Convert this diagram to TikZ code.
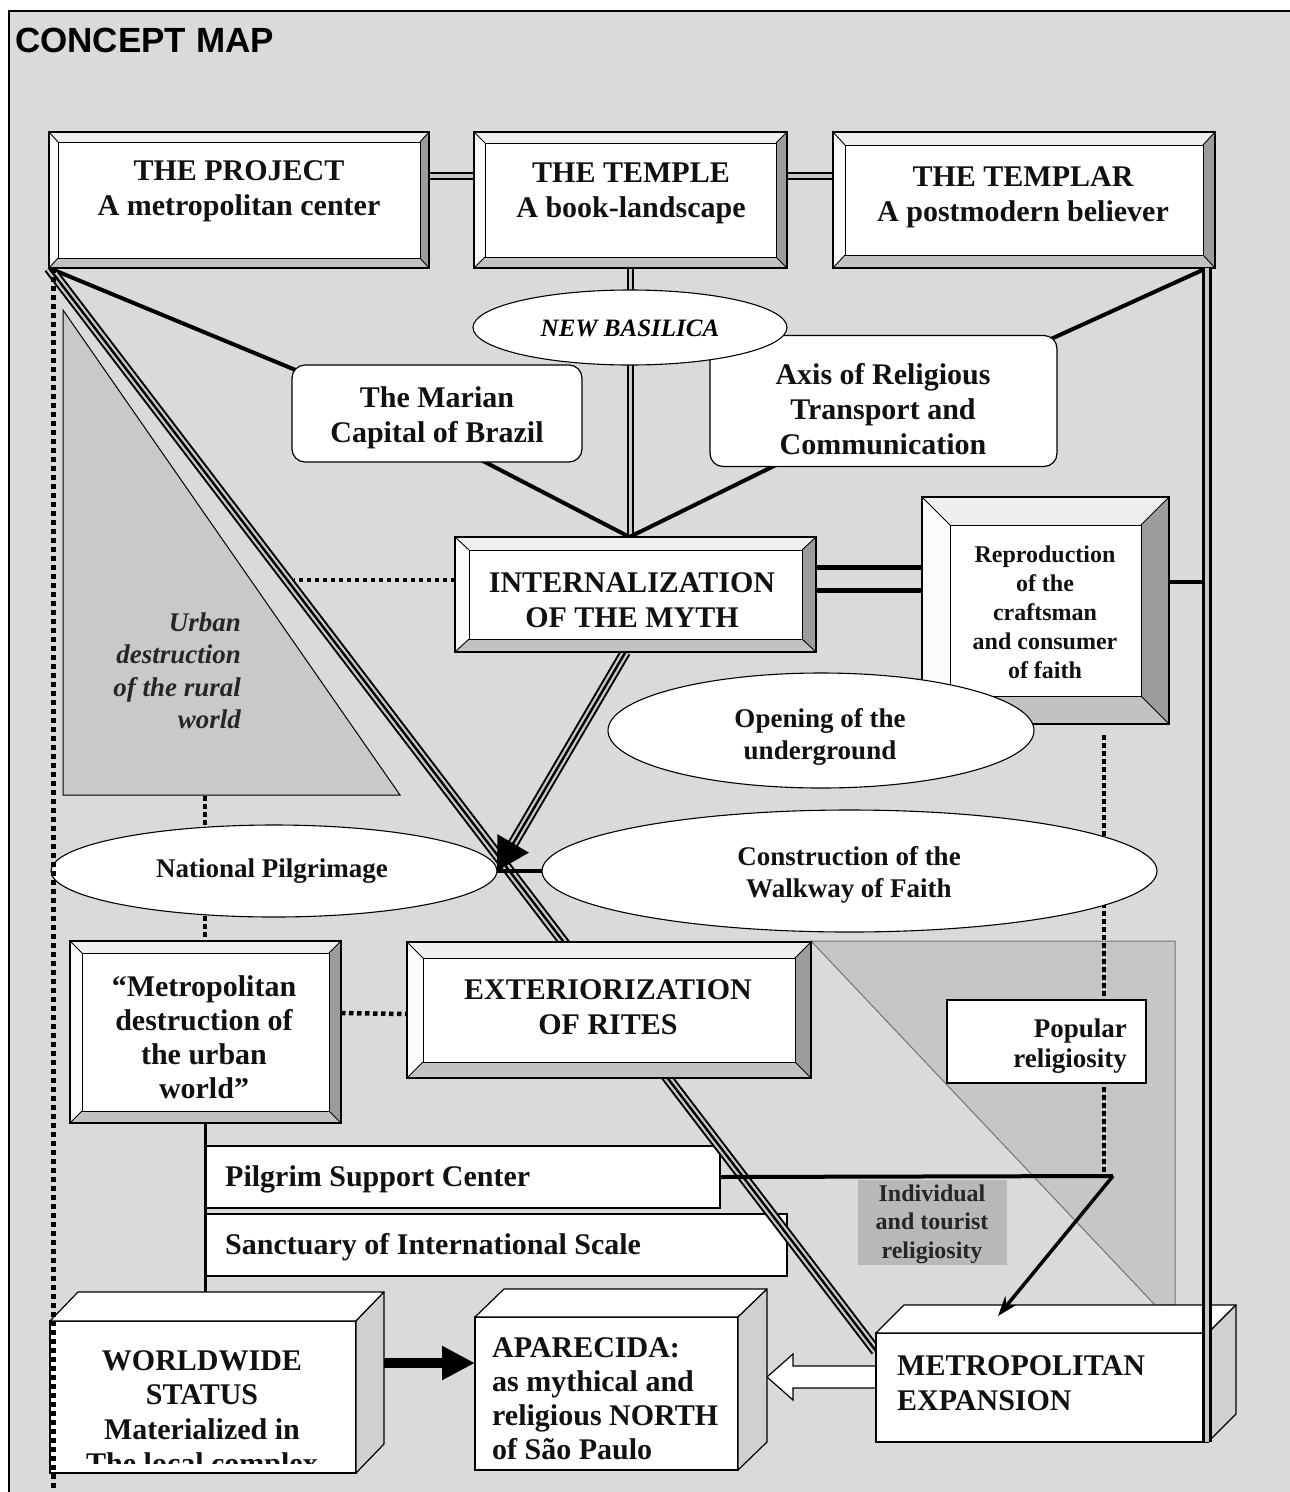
\documentclass[tikz,border=0pt]{standalone}
\usepackage{fontspec}
\setmainfont{Liberation Serif}
\newfontfamily\titlefont{Liberation Sans}
\usetikzlibrary{shapes.geometric,arrows.meta,calc}
\pgfdeclarelayer{bglayer}
\pgfdeclarelayer{linelayer}
\pgfdeclarelayer{frontlayer}
\pgfsetlayers{bglayer,linelayer,main,frontlayer}

\definecolor{bgc}{HTML}{DADADA}
\definecolor{trifill}{HTML}{C9C9C9}
\definecolor{regfill}{HTML}{C6C6C6}
\definecolor{facetT}{HTML}{EFEFEF}
\definecolor{facetL}{HTML}{FBFBFB}
\definecolor{facetR}{HTML}{9C9C9C}
\definecolor{facetB}{HTML}{C2C2C2}
\definecolor{sideC}{HTML}{D0D0D0}
\definecolor{indC}{HTML}{B8B8B8}
\definecolor{gapC}{HTML}{C8C8C8}
\definecolor{txtC}{HTML}{111111}

\tikzset{
  boxshape/.style={rectangle, draw=black, line width=1.2pt, fill=white, inner sep=0pt, outer sep=0pt},
  plainbox/.style={rectangle, draw=black, line width=1.3pt, fill=white, inner sep=0pt, outer sep=0pt},
  roundbox/.style={rectangle, rounded corners=13pt, draw=black, line width=1.2pt, fill=white, inner sep=0pt, outer sep=0pt},
  ellnode/.style={ellipse, draw=black, line width=1.1pt, fill=white, inner sep=0pt, outer sep=0pt},
  cubefront/.style={rectangle, draw=black, line width=1.2pt, fill=white, inner sep=0pt, outer sep=0pt},
  cubetop/.style={draw=black, line width=1.2pt, fill=white, line join=round},
  cubeside/.style={draw=black, line width=1.2pt, fill=sideC, line join=round},
  facetedge/.style={draw=black, line width=0.9pt},
  txtbig/.style={font=\fontsize{30}{35}\selectfont\bfseries, align=center, inner sep=0pt, text=txtC},
  txtmid/.style={font=\fontsize{27}{32}\selectfont\bfseries, align=center, inner sep=0pt, text=txtC},
  txtsmall/.style={font=\fontsize{24}{29}\selectfont\bfseries, align=center, inner sep=0pt, text=txtC},
  thickcon/.style={line width=4pt, black},
  dotcon/.style={line width=4.5pt, black, dash pattern=on 4.5pt off 3.5pt},
}

\newcommand\bevelbox[7]{%
  \node[boxshape, minimum width={(#4-#2)*1pt}, minimum height={(#5-#3)*1pt}] (#1) at ({(#2+#4)/2},{(#3+#5)/2}) {};
  \coordinate (#1-a) at ($(#1.north west)+(#6,#7)$);
  \coordinate (#1-b) at ($(#1.north east)+(-#6,#7)$);
  \coordinate (#1-c) at ($(#1.south east)+(-#6,-#7)$);
  \coordinate (#1-d) at ($(#1.south west)+(#6,-#7)$);
  \fill[facetL] (#1.north west) -- (#1-a) -- (#1-d) -- (#1.south west) -- cycle;
  \fill[facetT] (#1.north west) -- (#1.north east) -- (#1-b) -- (#1-a) -- cycle;
  \fill[facetR] (#1.north east) -- (#1.south east) -- (#1-c) -- (#1-b) -- cycle;
  \fill[facetB] (#1.south west) -- (#1.south east) -- (#1-c) -- (#1-d) -- cycle;
  \draw[facetedge] (#1-a) rectangle (#1-c);
  \draw[facetedge] (#1.north west) -- (#1-a) (#1.north east) -- (#1-b) (#1.south east) -- (#1-c) (#1.south west) -- (#1-d);
  \draw[line width=1.3pt] (#1.north west) rectangle (#1.south east);
}

\newcommand\cubebox[7]{%
  \node[cubefront, minimum width={(#4-#2)*1pt}, minimum height={(#5-#3)*1pt}] (#1) at ({(#2+#4)/2},{(#3+#5)/2}) {};
  \filldraw[cubetop] (#1.north west) -- ++(#6,-#7) -- ($(#1.north east)+(#6,-#7)$) -- (#1.north east) -- cycle;
  \filldraw[cubeside] (#1.north east) -- ++(#6,-#7) -- ($(#1.south east)+(#6,-#7)$) -- (#1.south east) -- cycle;
}

\newcommand\triline[2]{%
  \draw[line width=11pt, black] #1 -- #2;
  \draw[line width=7pt, gapC] #1 -- #2;
  \draw[line width=2.4pt, black] #1 -- #2;
}

\begin{document}
\begin{tikzpicture}[x=1pt,y=-1pt]
\useasboundingbox (0,0) rectangle (1290,1492);

% ---------------- background layer ----------------
\begin{pgfonlayer}{bglayer}
  \fill[white] (0,0) rectangle (1290,1492);
  \fill[bgc] (9,11) rectangle (1290,1492);
  \draw[line width=2pt] (9,1492) -- (9,11) -- (1290,11);
  \filldraw[fill=trifill, draw=black, line width=1pt] (63,310) -- (63,795) -- (400,795) -- cycle;
  \coordinate (tribot) at (205,796);
  \filldraw[fill=regfill, draw=black!55, line width=1pt] (811,941) -- (1175,941) -- (1175,1305) -- (1155,1305) -- cycle;
  \node[fill=indC, minimum width=149pt, minimum height=85pt, inner sep=0pt] (indiv) at (932.5,1222.5) {};
  \node[txtsmall, font=\fontsize{24}{28.5}\selectfont\bfseries, text=black!85] (indivT) at (932,1224) {Individual\\and tourist\\religiosity};
  \node[plainbox, minimum width=514pt, minimum height=62pt] (pilg) at (463,1177) {};
  \node[txtbig, anchor=west] (pilgT) at (225,1179) {Pilgrim Support Center};
  \node[plainbox, minimum width=581pt, minimum height=62pt] (sanct) at (496.5,1245) {};
  \node[txtbig, anchor=west] (sanctT) at (225,1247) {Sanctuary of International Scale};
  \node[font=\fontsize{27}{32.5}\selectfont\bfseries\itshape, align=right, inner sep=0pt, anchor=east, text=black!85] (urbanT) at (241,671) {Urban\\destruction\\of the rural\\world};
\end{pgfonlayer}

% ---------------- title ----------------
\node[font=\titlefont\bfseries\fontsize{35}{40}\selectfont, anchor=west, inner sep=0pt] (title) at (15,40) {CONCEPT MAP};

% ---------------- main nodes ----------------
\bevelbox{proj}{49}{132}{429}{268}{9}{10}
\node[txtbig] (projT) at (239,191) {THE PROJECT\\A metropolitan center};
\bevelbox{temple}{474}{132}{787}{268}{11}{11}
\node[txtbig] (templeT) at (631,193) {THE TEMPLE\\A book-landscape};
\bevelbox{templar}{833}{132}{1215}{268}{12}{13}
\node[txtbig] (templarT) at (1023,197) {THE TEMPLAR\\A postmodern believer};

\node[roundbox, minimum width=290pt, minimum height=97pt] (marian) at (437,413.5) {};
\node[txtbig] (marianT) at (437,418) {The Marian\\Capital of Brazil};
\node[roundbox, minimum width=347pt, minimum height=131pt] (axis) at (883.5,401) {};
\node[txtbig] (axisT) at (883,409) {Axis of Religious\\Transport and\\Communication};

\node[ellnode, minimum width=314pt, minimum height=75pt] (basil) at (630,327.5) {};
\node[font=\fontsize{25}{30}\selectfont\bfseries\itshape, inner sep=0pt] (basilT) at (630,328) {NEW BASILICA};

\bevelbox{int}{455}{537}{816}{652}{14}{13}
\node[txtbig] (intT) at (632,600) {INTERNALIZATION\\OF THE MYTH};

\bevelbox{repro}{922}{497}{1169}{724}{28}{28}
\node[txtsmall] (reproT) at (1045,612) {Reproduction\\of the\\craftsman\\and consumer\\of faith};

\node[ellnode, minimum width=426pt, minimum height=115pt] (open) at (821,730.5) {};
\node[txtmid] (openT) at (820,737) {Opening of the\\underground};

\node[ellnode, minimum width=446pt, minimum height=92pt] (nat) at (274,871) {};
\node[txtmid] (natT) at (272,871) {National Pilgrimage};

\node[ellnode, minimum width=615pt, minimum height=122pt] (constr) at (849.5,871) {};
\node[txtmid] (constrT) at (849,875) {Construction of the\\Walkway of Faith};

\bevelbox{mdest}{70}{941}{341}{1123}{12}{12}
\node[txtbig, font=\fontsize{30}{34}\selectfont\bfseries] (mdestT) at (204,1037) {“Metropolitan\\destruction of\\the urban\\world”};

\bevelbox{ext}{407}{942}{811}{1078}{16}{16}
\node[txtbig] (extT) at (608,1007) {EXTERIORIZATION\\OF RITES};

\node[plainbox, minimum width=199pt, minimum height=83pt] (pop) at (1046.5,1041.5) {};
\node[txtmid, font=\fontsize{27}{30}\selectfont\bfseries, align=right, anchor=east] (popT) at (1127,1046) {Popular\\religiosity};

\cubebox{ww}{50}{1321}{356}{1473}{28}{29}
\begin{scope}
  \clip (ww.north west) rectangle ($(ww.south east)+(0,-10)$);
  \node[txtbig, font=\fontsize{30}{34.5}\selectfont\bfseries] (wwT) at (202,1415) {WORLDWIDE\\STATUS\\Materialized in\\The local complex};
\end{scope}

\cubebox{apar}{475}{1317}{738}{1470}{29}{28}
\node[txtbig, font=\fontsize{30}{34}\selectfont\bfseries, align=left, anchor=west] (aparT) at (492,1399) {APARECIDA:\\as mythical and\\religious NORTH\\of São Paulo};

\cubebox{metro}{876}{1333}{1208}{1442}{28}{28}
\node[txtbig, align=left, anchor=west] (metroT) at (897,1383) {METROPOLITAN\\EXPANSION};

% ---------------- connectors behind nodes ----------------
\begin{pgfonlayer}{linelayer}
  % double links between top boxes
  \draw[line width=8pt, black] ($(proj.north east)+(0,44)$) -- ($(temple.north west)+(0,44)$);
  \draw[line width=3.5pt, gapC] ($(proj.north east)+(0,44)$) -- ($(temple.north west)+(0,44)$);
  \draw[line width=8pt, black] ($(temple.north east)+(0,44)$) -- ($(templar.north west)+(0,44)$);
  \draw[line width=3.5pt, gapC] ($(temple.north east)+(0,44)$) -- ($(templar.north west)+(0,44)$);
  % temple vertical double line
  \draw[line width=7pt, black] (temple.south) -- (temple.south |- int.north);
  \draw[line width=3pt, gapC] (temple.south) -- (temple.south |- int.north);
  \coordinate (junc) at ($(int.north)+(-6,0)$);
  \coordinate (tc) at ($(templar.south east)+(-8,0)$);
  % thick connectors
  \draw[thickcon] (proj.south west) -- ($(marian.north west)+(6,6)$);
  \draw[thickcon] (tc) -- ($(axis.north east)+(-5,3)$);
  \draw[thickcon] ($(marian.south west)+(189,-2)$) -- (junc);
  \draw[thickcon] ($(axis.south west)+(67,-2)$) -- (junc);
  % internalization <-> reproduction
  \draw[line width=5pt] ($(int.north east)+(0,30)$) -- ($(repro.north west)+(0,70)$);
  \draw[line width=5pt] ($(int.north east)+(0,53)$) -- ($(repro.north west)+(0,93)$);
  \draw[thickcon] ($(repro.north east)+(0,85)$) -- (tc |- {$(repro.north east)+(0,85)$});
  % dotted connectors
  \draw[dotcon] ($(int.north west)+(0,43)$) -- (294,580);
  \draw[dotcon] (tribot) -- (tribot |- mdest.north);
  \draw[dotcon] ($(mdest.north east)+(0,72)$) -- ($(ext.north west)+(0,72)$);
  \coordinate (dtop) at (1104,735);
  \coordinate (jn) at (1113,1176);
  \draw[dotcon] (dtop) -- (dtop |- jn);
  % main diagonal
  \triline{(proj.south west)}{($(metro.north west)+(0,18)$)}
  % metropolitan destruction -> worldwide
  \draw[line width=2.5pt] (mdest.south) -- ($(ww.north west)+(155.5,-29)$);
  % pilgrim support center -> junction
  \draw[thickcon] (pilg.east) -- (jn);
  % hollow arrow metro -> aparecida
  \coordinate (ha) at ($(metro.north west)+(0,44)$);
  \coordinate (hb) at ($(apar.north east)+(29,60)$);
  \filldraw[fill=white, draw=black, line width=1.2pt, line join=miter]
    ($(ha)+(2,-11)$) -- ($(hb)+(26,-11)$) -- ($(hb)+(26,-23)$) -- (hb) -- ($(hb)+(26,23)$) -- ($(hb)+(26,11)$) -- ($(ha)+(2,11)$);
  % internalization arrow shaft
  \coordinate (ast) at ($(int.south)+(-10,0)$);
  \coordinate (aend) at ($(nat.east)!28pt!(ast)$);
  \triline{(ast)}{(aend)}
\end{pgfonlayer}

% ---------------- connectors in front ----------------
\begin{pgfonlayer}{frontlayer}
  \draw[line width=5pt, black, dash pattern=on 5pt off 4pt] ($(proj.south west)+(4,0)$) -- (53,1492);
  \draw[line width=10pt, black] (tc) -- (tc |- metro.south);
  \draw[line width=4pt, gapC] (tc) -- (tc |- metro.south);
  \draw[line width=2pt, -{Triangle[length=32pt,width=36pt]}] (aend) -- (nat.east);
  \draw[line width=4.5pt] (nat.east) -- (nat.east -| constr.west);
  \draw[line width=3.5pt, -{Stealth[length=20pt,width=14pt]}] (jn) -- ($(metro.north west)+(122,-17)$);
  \draw[line width=10pt, -{Triangle[length=33pt,width=32pt]}] ($(ww.north east)+(28,42)$) -- ($(apar.north west)+(0,46)$);
\end{pgfonlayer}
\end{tikzpicture}
\end{document}
